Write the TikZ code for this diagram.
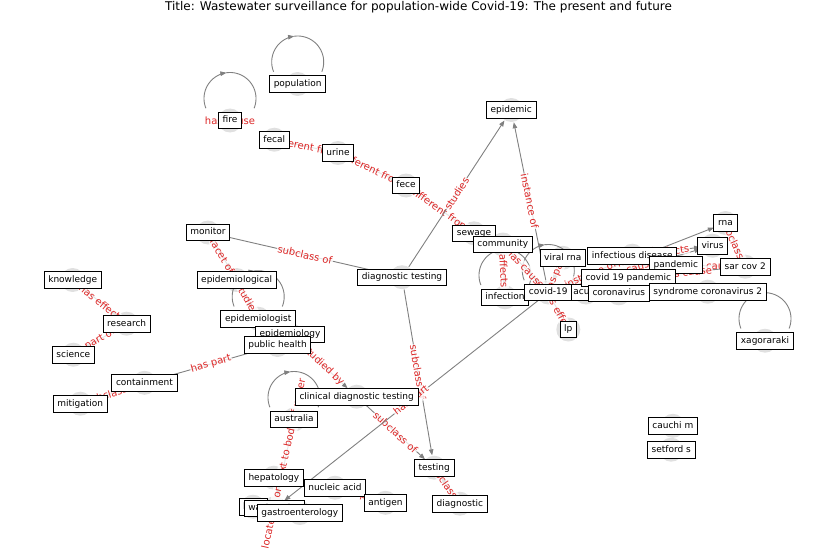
\documentclass[tikz,border=0pt]{standalone}
\usepackage{fontspec}
\setmainfont{DejaVu Sans}
\usetikzlibrary{arrows.meta}
\newcommand\ndfont{\fontsize{9}{10}\selectfont}
\newcommand\edfont{\fontsize{10}{11}\selectfont}
\newcommand\ttlfont{\fontsize{12}{14}\selectfont}
\definecolor{edgegray}{RGB}{128,128,128}
\definecolor{labred}{RGB}{220,38,38}
\definecolor{dotgray}{RGB}{224,224,224}
\tikzset{
  nd/.style={draw=black, line width=0.9pt, fill=white, font=\ndfont, inner xsep=4.2pt, inner ysep=0pt, minimum height=16.5pt, text height=6.8pt, text depth=1.9pt},
  edgeline/.style={draw=edgegray, line width=0.9pt, shorten >=12.5pt, shorten <=12.5pt},
  arr/.style={edgeline, -{Triangle[length=6pt,width=4.5pt]}},
  loopline/.style={draw=edgegray, line width=0.9pt},
  elabbase/.style={font=\edfont, text=labred, fill=white, fill opacity=0.8, text opacity=1, inner sep=0.8pt, rounded corners=2pt},
  elab/.style={elabbase, sloped, midway},
}
\newcommand\myloop[1]{%
  \begin{scope}[shift={(#1)}]
    \draw[loopline,-{Triangle[length=6pt,width=4.5pt]}] plot[smooth,domain=158:262,samples=30,variable=\t] ({26*cos(\t)},{-22+26*sin(\t)});
    \draw[loopline] plot[smooth,domain=261:382,samples=30,variable=\t] ({26*cos(\t)},{-22+26*sin(\t)});
  \end{scope}}
\begin{document}
\begin{tikzpicture}[x=1pt,y=-1pt]
\useasboundingbox (0,0) rectangle (837,559);
\node[font=\ttlfont] (title) at (418.5,7.5) {Title: Wastewater surveillance for population-wide Covid-19: The present and future};
% node centres
\coordinate (population) at (297.7,84);
\coordinate (fire) at (230,120.5);
\coordinate (fecal) at (274.3,139.7);
\coordinate (urine) at (338,153);
\coordinate (fece) at (406,185.5);
\coordinate (epidemic) at (511.3,110);
\coordinate (monitor) at (208,232.5);
\coordinate (sewage) at (474,233.3);
\coordinate (community) at (502.8,244.5);
\coordinate (diagtest) at (402,277.2);
\coordinate (viralrna) at (562.8,257.8);
\coordinate (infdis) at (632.3,255.7);
\coordinate (rna) at (725.5,223);
\coordinate (virus) at (712.5,245.7);
\coordinate (pandemic) at (675.8,265);
\coordinate (sarcov) at (745.3,266.7);
\coordinate (cpandemic) at (628.3,277.7);
\coordinate (covid) at (548.3,292.5);
\coordinate (acute) at (586,292.5);
\coordinate (coronavirus) at (618.8,293.3);
\coordinate (syndrome) at (707.7,291.7);
\coordinate (infection) at (505,297.3);
\coordinate (lp) at (568.3,329.5);
\coordinate (xago) at (765,340.7);
\coordinate (knowledge) at (72.7,280);
\coordinate (epical) at (236.7,280);
\coordinate (research) at (126.7,323.7);
\coordinate (epgist) at (258.2,318.7);
\coordinate (epogy) at (290,334.5);
\coordinate (publich) at (277.5,345);
\coordinate (science) at (73.3,354.7);
\coordinate (containment) at (144.5,382.8);
\coordinate (mitigation) at (80.3,403.7);
\coordinate (clinical) at (356.7,396.7);
\coordinate (australia) at (294,419.5);
\coordinate (cauchi) at (672.8,425.8);
\coordinate (setford) at (671.2,449.7);
\coordinate (testing) at (434.2,467.7);
\coordinate (hepatology) at (273.8,477.7);
\coordinate (nucleic) at (335,487.7);
\coordinate (antigen) at (385.5,502.8);
\coordinate (diagnostic) at (459.8,503.7);
\coordinate (liver) at (253,506.7);
\coordinate (wastewater) at (274.5,508.3);
\coordinate (gastro) at (299.8,513);
% grey node discs
\foreach \n in {population,fire,fecal,urine,fece,epidemic,monitor,sewage,community,diagtest,viralrna,infdis,rna,virus,pandemic,sarcov,cpandemic,covid,acute,coronavirus,syndrome,infection,lp,xago,knowledge,epical,research,epgist,epogy,publich,science,containment,mitigation,clinical,australia,cauchi,setford,testing,hepatology,nucleic,antigen,diagnostic,liver,wastewater,gastro}
  \fill[dotgray] (\n) circle (12pt);
% self loops
\myloop{fire}
\myloop{population}
\myloop{epgist}
\myloop{australia}
\myloop{infection}
\myloop{covid}
\myloop{xago}
\node[elabbase] (lfire) at (fire) {has cause};
% edges
\draw[arr] (fecal) -- node[elab]{different from} (urine);
\draw[arr] (urine) -- node[elab]{different from} (fece);
\draw[arr] (fece) -- node[elab]{different from} (sewage);
\draw[arr] (diagtest) -- node[elab]{studies} (epidemic);
\draw[arr] (covid) -- node[elab]{instance of} (epidemic);
\draw[arr] (monitor) -- node[elab]{subclass of} (diagtest);
\draw[arr] (monitor) -- node[elab]{facet of} (epical);
\draw[arr] (epical) -- node[elab]{studies} (epgist);
\draw[arr] (publich) -- node[elab]{has part} (containment);
\draw[arr] (containment) -- node[elab]{subclass of} (mitigation);
\draw[arr] (knowledge) -- node[elab]{has effect} (research);
\draw[arr] (research) -- node[elab]{part of} (science);
\draw[arr] (epogy) -- node[elab]{studied by} (clinical);
\draw[arr] (clinical) -- node[elab]{subclass of} (testing);
\draw[arr] (diagtest) -- node[elab]{subclass of} (testing);
\draw[arr] (diagnostic) -- node[elab]{subclass of} (testing);
\draw[arr] (covid) -- node[elab]{has part} (wastewater);
\draw[arr] (australia) -- node[elab]{located in or next to body of water} (wastewater);
\draw[arr] (nucleic) -- node[elab]{has part} (antigen);
\draw[arr] (community) -- node[elab]{has cause} (covid);
\draw[arr] (community) -- node[elab]{affects} (infection);
\draw[arr] (viralrna) -- node[elab]{has part} (covid);
\draw[arr] (covid) -- node[elab]{has effect} (lp);
\draw[arr] (covid) -- node[elab]{has part} (rna);
\draw[arr] (covid) -- node[elab]{has cause} (virus);
\draw[arr] (infdis) -- node[elab]{affects} (virus);
\draw[arr] (pandemic) -- node[elab]{has cause} (sarcov);
\draw[arr] (cpandemic) -- node[elab]{has cause} (sarcov);
\draw[arr] (rna) -- node[elab]{subclass of} (sarcov);
\draw[arr] (covid) -- node[elab]{part of} (cpandemic);
\draw[arr] (covid) -- node[elab]{has cause} (coronavirus);
\draw[arr] (covid) -- node[elab]{instance of} (infdis);
% label boxes
\node[nd] (n-population) at (population) {population};
\node[nd] (n-fire) at (fire) {fire};
\node[nd] (n-fecal) at (fecal) {fecal};
\node[nd] (n-urine) at (urine) {urine};
\node[nd] (n-fece) at (fece) {fece};
\node[nd] (n-epidemic) at (epidemic) {epidemic};
\node[nd] (n-monitor) at (monitor) {monitor};
\node[nd] (n-sewage) at (sewage) {sewage};
\node[nd] (n-community) at (community) {community};
\node[nd] (n-diagtest) at (diagtest) {diagnostic testing};
\node[nd] (n-knowledge) at (knowledge) {knowledge};
\node[nd] (n-epical) at (epical) {epidemiological};
\node[nd] (n-research) at (research) {research};
\node[nd] (n-science) at (science) {science};
\node[nd] (n-containment) at (containment) {containment};
\node[nd] (n-mitigation) at (mitigation) {mitigation};
\node[nd] (n-epgist) at (epgist) {epidemiologist};
\node[nd] (n-epogy) at (epogy) {epidemiology};
\node[nd] (n-publich) at (publich) {public health};
\node[nd] (n-clinical) at (clinical) {clinical diagnostic testing};
\node[nd] (n-australia) at (australia) {australia};
\node[nd] (n-cauchi) at (cauchi) {cauchi m};
\node[nd] (n-setford) at (setford) {setford s};
\node[nd] (n-testing) at (testing) {testing};
\node[nd] (n-diagnostic) at (diagnostic) {diagnostic};
\node[nd] (n-hepatology) at (hepatology) {hepatology};
\node[nd] (n-nucleic) at (nucleic) {nucleic acid};
\node[nd] (n-antigen) at (antigen) {antigen};
\node[nd] (n-liver) at (liver) {liver};
\node[nd] (n-wastewater) at (wastewater) {wastewater};
\node[nd] (n-gastro) at (gastro) {gastroenterology};
\node[nd] (n-acute) at (acute) {acute};
\node[nd] (n-infection) at (infection) {infection};
\node[nd] (n-covid) at (covid) {covid-19};
\node[nd] (n-viralrna) at (viralrna) {viral rna};
\node[nd] (n-infdis) at (infdis) {infectious disease};
\node[nd] (n-rna) at (rna) {rna};
\node[nd] (n-virus) at (virus) {virus};
\node[nd] (n-pandemic) at (pandemic) {pandemic};
\node[nd] (n-sarcov) at (sarcov) {sar cov 2};
\node[nd] (n-cpandemic) at (cpandemic) {covid 19 pandemic};
\node[nd] (n-syndrome) at (syndrome) {syndrome coronavirus 2};
\node[nd] (n-coronavirus) at (coronavirus) {coronavirus};
\node[nd] (n-lp) at (lp) {lp};
\node[nd] (n-xago) at (xago) {xagoraraki};
\end{tikzpicture}
\end{document}
